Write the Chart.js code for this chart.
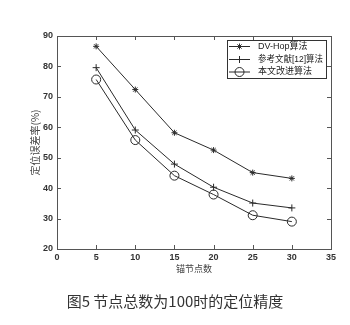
<!DOCTYPE html>
<html><head><meta charset="utf-8">
<script src="https://cdn.jsdelivr.net/npm/chart.js"></script>
<style>
body{margin:0;background:#fff;width:350px;height:325px;overflow:hidden;position:relative}
#c{position:absolute;left:0;top:0}
#cap{position:absolute;left:0;width:350px;top:291px;text-align:center;font:15px "Noto Sans CJK SC";color:#333;line-height:20px}
</style></head><body>
<canvas id="c" width="350" height="325"></canvas>
<div id="cap">图5 节点总数为100时的定位精度</div>
<script>
const anchors = [5, 10, 15, 20, 25, 30];
const dvhop = [86.6, 72.4, 58.2, 52.5, 45.1, 43.2];
const ref12 = [79.6, 59.1, 47.9, 40.3, 35.1, 33.5];
const ours = [75.7, 55.8, 44.1, 37.9, 31.1, 29.0];
const seriesNames = ['DV-Hop算法', '参考文献[12]算法', '本文改进算法'];
const xTicks = [0, 5, 10, 15, 20, 25, 30, 35];
const yTicks = [20, 30, 40, 50, 60, 70, 80, 90];
const xTitle = '锚节点数';
const yTitle = '定位误差率(%)';

const lineColor = '#2a2a2a';
const styles = ['star', 'cross', 'circle'];
const radii = [3, 3.5, 4.5];
const all = [dvhop, ref12, ours];

const datasets = all.map((arr, i) => ({
  label: seriesNames[i],
  data: anchors.map((a, j) => ({x: a, y: arr[j]})),
  borderColor: lineColor,
  borderWidth: 1,
  backgroundColor: 'rgba(0,0,0,0)',
  pointStyle: styles[i],
  pointRadius: radii[i],
  pointBorderColor: lineColor,
  pointBackgroundColor: 'rgba(0,0,0,0)',
  pointBorderWidth: 1,
  tension: 0
}));

const framePlugin = {
  id: 'frame',
  afterDraw(chart) {
    const {ctx, chartArea: a} = chart;
    const xs = chart.scales.x, ys = chart.scales.y;
    ctx.save();
    ctx.strokeStyle = '#555';
    ctx.lineWidth = 1;
    ctx.strokeRect(Math.round(a.left) + 0.5, Math.round(a.top) + 0.5, Math.round(a.right - a.left), Math.round(a.bottom - a.top));
    const L = 4;
    ctx.beginPath();
    xTicks.forEach(v => {
      const px = Math.round(xs.getPixelForValue(v)) + 0.5;
      ctx.moveTo(px, a.bottom); ctx.lineTo(px, a.bottom - L);
      ctx.moveTo(px, a.top); ctx.lineTo(px, a.top + L);
    });
    yTicks.forEach(v => {
      const py = Math.round(ys.getPixelForValue(v)) + 0.5;
      ctx.moveTo(a.left, py); ctx.lineTo(a.left + L, py);
      ctx.moveTo(a.right, py); ctx.lineTo(a.right - L, py);
    });
    ctx.stroke();

    // legend
    const bx = 227, by = 40, bw = 99, bh = 38;
    ctx.fillStyle = '#fff';
    ctx.fillRect(bx, by, bw, bh);
    ctx.strokeStyle = '#333';
    ctx.strokeRect(bx + 0.5, by + 0.5, bw, bh);
    const rows = [46, 59, 71.5];
    chart.data.datasets.forEach((ds, i) => {
      const y = rows[i];
      ctx.strokeStyle = lineColor;
      ctx.lineWidth = 1;
      ctx.beginPath();
      ctx.moveTo(229, y + 0.5); ctx.lineTo(250, y + 0.5);
      ctx.stroke();
      ctx.fillStyle = 'rgba(0,0,0,0)';
      Chart.helpers.drawPoint(ctx, {pointStyle: ds.pointStyle, radius: ds.pointRadius, borderWidth: 1}, 239.5, y + 0.5);
      ctx.fillStyle = '#222';
      ctx.textBaseline = 'middle';
      ctx.textAlign = 'left';
      ctx.font = '9px "Liberation Sans", "Noto Sans CJK SC"';
      ctx.fillText(ds.label, 258, y + 0.5, 65);
    });
    ctx.restore();
  }
};

new Chart(document.getElementById('c'), {
  type: 'line',
  data: {datasets},
  options: {
    responsive: false,
    animation: false,
    layout: {padding: {left: 29, right: 19, top: 36, bottom: 51}},
    plugins: {legend: {display: false}, tooltip: {enabled: false}},
    scales: {
      x: {
        type: 'linear', min: 0, max: 35,
        afterBuildTicks(s) { s.ticks = xTicks.map(v => ({value: v})); },
        afterFit(s) { s.height = 25; },
        grid: {display: false, drawTicks: false},
        border: {display: false},
        ticks: {color: '#333', padding: 3, font: {family: 'Liberation Sans', size: 9, weight: 'bold'}, maxRotation: 0},
        title: {display: true, text: xTitle, color: '#444', padding: 0, font: {family: 'Noto Sans CJK SC', size: 9}}
      },
      y: {
        type: 'linear', min: 20, max: 90,
        afterBuildTicks(s) { s.ticks = yTicks.map(v => ({value: v})); },
        afterFit(s) { s.width = 28; },
        grid: {display: false, drawTicks: false},
        border: {display: false},
        ticks: {color: '#333', padding: 4, font: {family: 'Liberation Sans', size: 9, weight: 'bold'}},
        title: {display: true, text: yTitle, color: '#444', padding: 0, font: {family: 'Noto Sans CJK SC', size: 10}}
      }
    }
  },
  plugins: [framePlugin]
});
</script>
</body></html>
